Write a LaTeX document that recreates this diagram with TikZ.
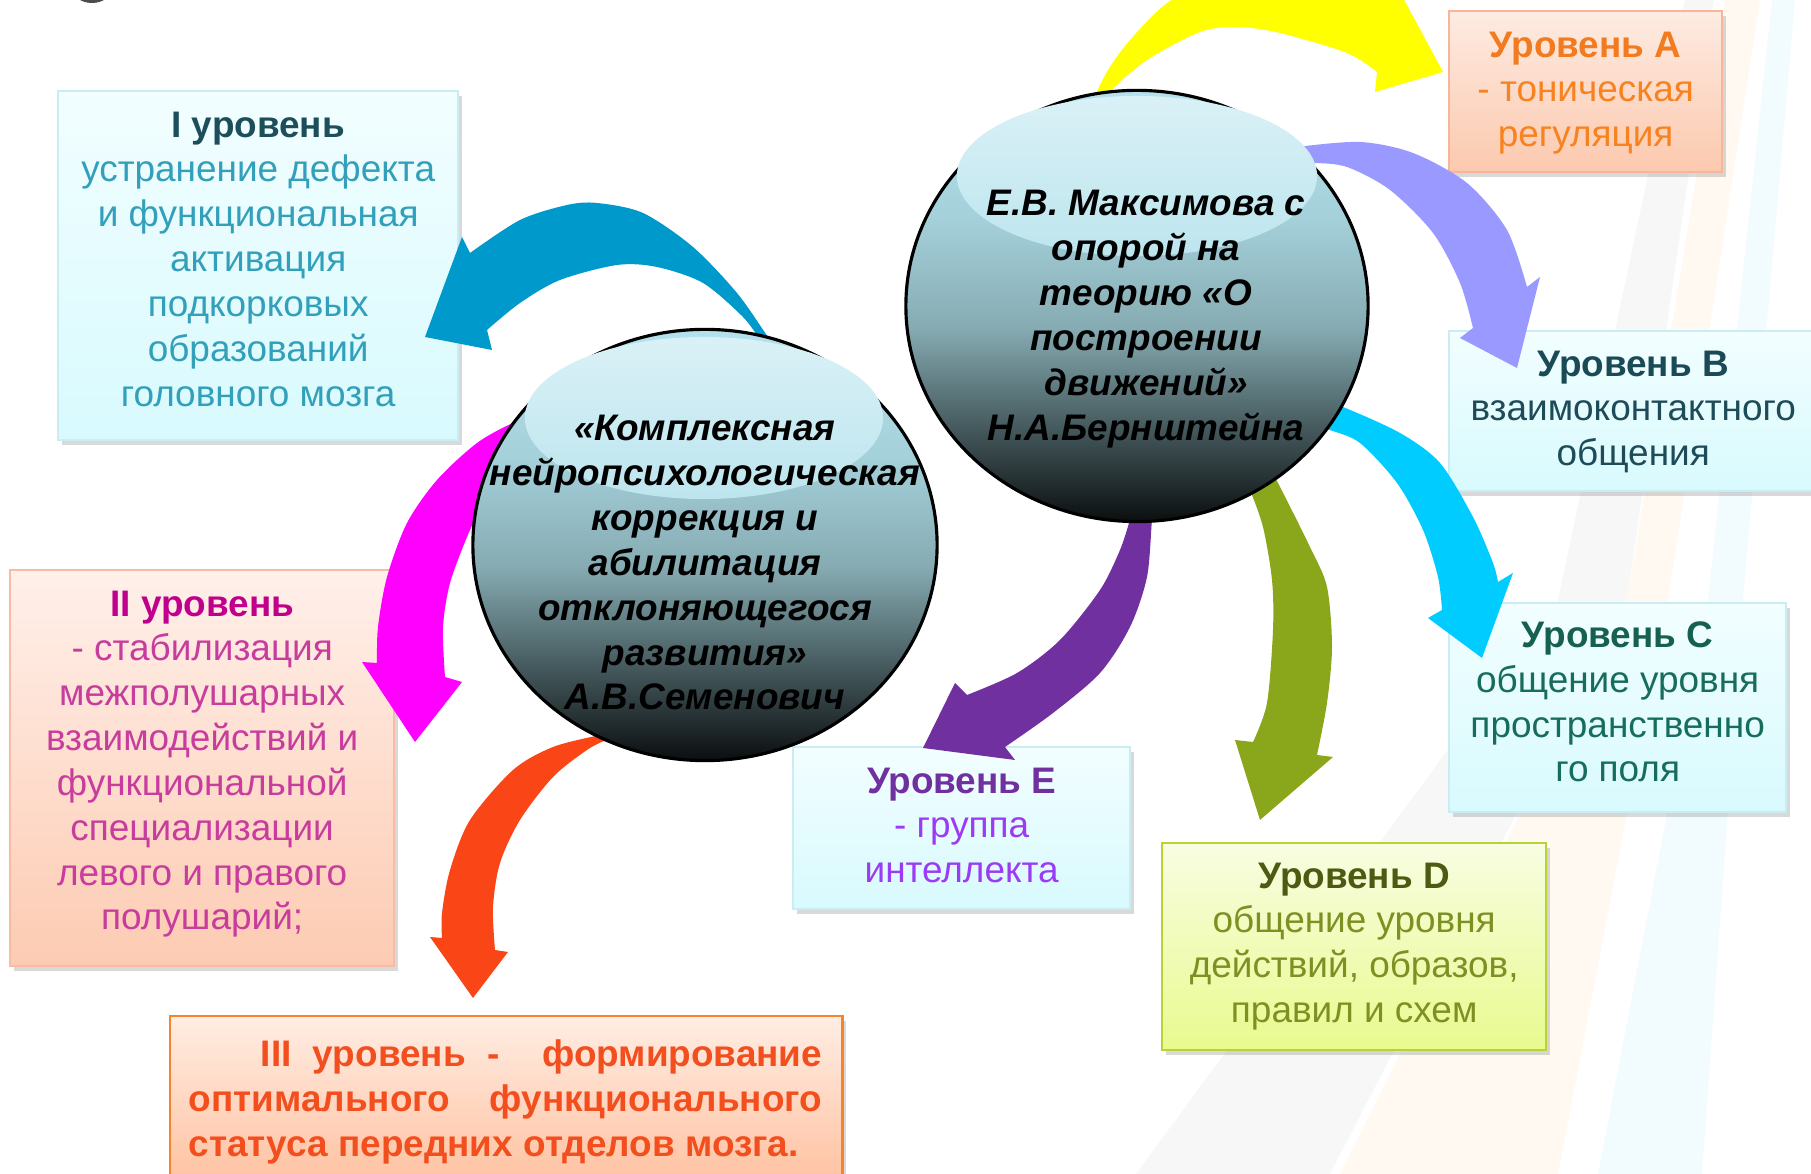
\documentclass[tikz,border=0pt]{standalone}
\usepackage{fontspec}
\setmainfont{Liberation Sans}
\usetikzlibrary{positioning,shapes.geometric,shadows}

% box fills
\definecolor{cyantop}{HTML}{F2FEFF}
\definecolor{cyanbot}{HTML}{D8FAFE}
\definecolor{cyanedge}{HTML}{C8EDF3}
\definecolor{peachtop}{HTML}{FFF0EA}
\definecolor{peachbot}{HTML}{FDCBB2}
\definecolor{peachedge}{HTML}{F8BCA4}
\definecolor{orangetop}{HTML}{FFEDE3}
\definecolor{orangebot}{HTML}{FFB48C}
\definecolor{orangeedge}{HTML}{F5842A}
\definecolor{salmontop}{HTML}{FDEBE2}
\definecolor{salmonbot}{HTML}{FCC9AE}
\definecolor{salmonedge}{HTML}{F7B59A}
\definecolor{limetop}{HTML}{F8FDE2}
\definecolor{limebot}{HTML}{E9FA8E}
\definecolor{limeedge}{HTML}{B4D535}
% text colours
\definecolor{tealhead}{HTML}{1D4E5B}
\definecolor{tealtxt}{HTML}{32A0BA}
\definecolor{maghead}{HTML}{C0008C}
\definecolor{magtxt}{HTML}{C83C9E}
\definecolor{redtxt}{HTML}{F24E1E}
\definecolor{orghead}{HTML}{F27B1F}
\definecolor{orgtxt}{HTML}{F7821F}
\definecolor{bhead}{HTML}{1B4A57}
\definecolor{btxt}{HTML}{1E4B58}
\definecolor{chead}{HTML}{16604F}
\definecolor{ctxt}{HTML}{176D5D}
\definecolor{dhead}{HTML}{4C5A12}
\definecolor{dtxt}{HTML}{7D9123}
\definecolor{ehead}{HTML}{7030A0}
\definecolor{etxt}{HTML}{9B3BF5}
% arrows
\definecolor{arryellow}{HTML}{FFFF00}
\definecolor{arrlav}{HTML}{9999FF}
\definecolor{arrcyan}{HTML}{00CCFF}
\definecolor{arrolive}{HTML}{8AA61B}
\definecolor{arrpurple}{HTML}{7030A0}
\definecolor{arrteal}{HTML}{0099CC}
\definecolor{arrmag}{HTML}{FF00FF}
\definecolor{arrred}{HTML}{FA4616}
% spheres
\definecolor{sphtop}{HTML}{B4E2EC}
\definecolor{sph30}{HTML}{A4D0DA}
\definecolor{sphmid}{HTML}{86ABB2}
\definecolor{sph75}{HTML}{4E6569}
\definecolor{sphbot}{HTML}{0B0E0F}
\definecolor{glosstop}{HTML}{D9F1F6}
\definecolor{glossbot}{HTML}{BDE5EE}
\pgfdeclareverticalshading{sphshade}{100bp}{color(0bp)=(sphbot); color(25bp)=(sphbot);
  color(37.5bp)=(sph75); color(47.5bp)=(sphmid); color(60bp)=(sph30);
  color(75bp)=(sphtop); color(100bp)=(sphtop)}

\tikzset{
  lvlbox/.style={rectangle, draw=#1, line width=0.6pt, inner sep=0pt,
    anchor=north west,
    drop shadow={shadow xshift=0.035cm, shadow yshift=-0.05cm, opacity=0.3}},
  lvltext/.style={align=center, inner sep=0pt,
    font=\fontsize{10.5}{12.75}\selectfont,
    execute at begin node={\rule{0pt}{0.3cm}}},
  sphere/.style={ellipse, draw=black, line width=0.9pt, inner sep=0pt,
    shading=sphshade},
  gloss/.style={ellipse, inner sep=0pt, top color=glosstop, bottom color=glossbot},
  sphtext/.style={lvltext, font=\fontsize{10.5}{12.75}\selectfont\bfseries\itshape}
}

\begin{document}
\begin{tikzpicture}[x=0.01cm, y=-0.01cm]
  \useasboundingbox (0,0) rectangle (1811,1174);
  \clip (0,0) rectangle (1811,1174);

  % faint background bands
  \fill[black!3] (1136,1174) -- (1330,1174) -- (1627,600) -- (1714,0) -- (1685,0) -- (1558,600) -- cycle;
  \fill[orange!5] (1340,1174) -- (1558,1174) -- (1668,600) -- (1760,0) -- (1725,0) -- (1627,600) -- cycle;
  \fill[cyan!5] (1598,1174) -- (1702,1174) -- (1743,600) -- (1795,0) -- (1772,0) -- (1708,600) -- cycle;
  \fill[black!70] (92,-12) ellipse [x radius=20, y radius=15];

  % level boxes
  \node[lvlbox=cyanedge, top color=cyantop, bottom color=cyanbot,
        minimum width=4cm, minimum height=3.49cm] (boxI) at (57,90) {};
  \node[lvlbox=peachedge, top color=peachtop, bottom color=peachbot,
        minimum width=3.84cm, minimum height=3.96cm] (boxII) at (9,569) {};
  \node[lvlbox=orangeedge, top color=orangetop, bottom color=orangebot,
        minimum width=6.72cm, minimum height=2.2cm] (boxIII) at (169,1015) {};
  \node[lvlbox=salmonedge, top color=salmontop, bottom color=salmonbot,
        minimum width=2.73cm, minimum height=1.61cm] (boxA) at (1448,10) {};
  \node[lvlbox=cyanedge, top color=cyantop, bottom color=cyanbot,
        minimum width=3.68cm, minimum height=1.6cm] (boxB) at (1448,330) {};
  \node[lvlbox=cyanedge, top color=cyantop, bottom color=cyanbot,
        minimum width=3.37cm, minimum height=2.09cm] (boxC) at (1448,602) {};
  \node[lvlbox=limeedge, top color=limetop, bottom color=limebot,
        minimum width=3.84cm, minimum height=2.07cm] (boxD) at (1161,842) {};
  \node[lvlbox=cyanedge, top color=cyantop, bottom color=cyanbot,
        minimum width=3.37cm, minimum height=1.62cm] (boxE) at (792,746) {};

  \node[lvltext, text=tealtxt, below=0.21cm of boxI.north] (txtI)
    {\textbf{\color{tealhead}I уровень}\\устранение дефекта\\и функциональная\\активация\\подкорковых\\образований\\головного мозга};
  \node[lvltext, text=magtxt, below=0.21cm of boxII.north] (txtII)
    {\textbf{\color{maghead}II уровень}\\- стабилизация\\межполушарных\\взаимодействий и\\функциональной\\специализации\\левого и правого\\полушарий;};
  \node[lvltext, text=redtxt, align=left, font=\fontsize{10.5}{12.75}\selectfont\bfseries,
        anchor=north west] (txtIII) at ([xshift=0.19cm, yshift=-0.24cm]boxIII.north west)
    {\makebox[6.33cm][s]{\hspace*{0.72cm}III\hfill уровень\hfill -\hfill\hfill формирование}\\
     \makebox[6.33cm][s]{оптимального\hfill функционального}\\
     статуса передних отделов мозга.};
  \node[lvltext, text=orgtxt, below=0.21cm of boxA.north] (txtA)
    {\textbf{\color{orghead}Уровень А}\\- тоническая\\регуляция};
  \node[lvltext, text=btxt, below=0.2cm of boxB.north] (txtB)
    {\textbf{\color{bhead}Уровень В}\\взаимоконтактного\\общения};
  \node[lvltext, text=ctxt, below=0.19cm of boxC.north] (txtC)
    {\textbf{\color{chead}Уровень С}\\общение уровня\\пространственно\\го поля};
  \node[lvltext, text=dtxt, below=0.2cm of boxD.north] (txtD)
    {\textbf{\color{dhead}Уровень D}\\общение уровня\\действий, образов,\\правил и схем};
  \node[lvltext, text=etxt, below=0.21cm of boxE.north] (txtE)
    {\textbf{\color{ehead}Уровень Е}\\- группа\\интеллекта};

  % curved block arrows
  \fill[arryellow] plot[smooth] coordinates {(1093,100) (1108,70) (1130,40) (1167,3) (1210,-18) (1265,-25) (1330,-18) (1383,-6)}
    -- (1387,-32) -- (1443,72) -- (1375,92)
    -- plot[smooth] coordinates {(1377,72) (1347,53) (1280,33) (1237,27) (1200,32) (1147,60) (1110,92) (1105,110)} -- cycle;
  \fill[arrlav] plot[smooth] coordinates {(1290,150) (1297,147) (1360,142) (1413,153) (1467,183) (1507,230) (1527,287)}
    -- (1540,277) -- (1517,368) -- (1460,338)
    -- plot[smooth] coordinates {(1473,328) (1460,283) (1433,233) (1390,190) (1347,167) (1313,163) (1290,165)} -- cycle;
  \fill[arrcyan] plot[smooth] coordinates {(1330,405) (1343,407) (1400,433) (1440,463) (1473,517) (1493,563) (1498,582)}
    -- (1513,573) -- (1482,658) -- (1428,618)
    -- plot[smooth] coordinates {(1442,610) (1438,577) (1423,530) (1397,483) (1360,443) (1330,430) (1315,425)} -- cycle;
  \fill[arrolive] plot[smooth] coordinates {(1245,480) (1250,490) (1263,527) (1272,580) (1273,630) (1267,703) (1253,742)}
    -- (1235,740) -- (1260,820) -- (1333,757)
    -- plot[smooth] coordinates {(1317,755) (1327,703) (1332,647) (1327,587) (1310,547) (1278,483) (1270,470)} -- cycle;
  \fill[arrpurple] plot[smooth] coordinates {(1155,505) (1152,520) (1147,577) (1130,627) (1100,673) (1053,713) (1005,747)}
    -- (1015,760) -- (923,748) -- (955,683)
    -- plot[smooth] coordinates {(967,695) (1017,673) (1060,640) (1100,590) (1120,550) (1130,520) (1135,505)} -- cycle;
  \fill[arrteal] plot[smooth] coordinates {(775,345) (768,337) (737,293) (693,247) (643,213) (597,203) (567,205) (520,220) (470,253)}
    -- (462,237) -- (425,337) -- (492,350)
    -- plot[smooth] coordinates {(487,330) (520,303) (560,280) (617,265) (657,267) (703,283) (743,317) (760,340)} -- cycle;
  \fill[arrmag] plot[smooth] coordinates {(520,425) (513,423) (477,443) (437,480) (407,523) (387,577) (378,627) (377,663)}
    -- (362,662) -- (415,742) -- (462,682)
    -- plot[smooth] coordinates {(445,677) (443,627) (450,583) (467,537) (480,510) (495,490)} -- cycle;
  \fill[arrred] plot[smooth] coordinates {(610,733) (600,735) (553,747) (513,770) (470,820) (450,870) (442,913) (442,938)}
    -- (430,937) -- (473,998) -- (508,952)
    -- plot[smooth] coordinates {(495,950) (493,907) (500,863) (520,820) (553,777) (587,750) (607,740) (620,740)} -- cycle;

  % spheres
  \node[sphere, minimum width=4.62cm, minimum height=4.31cm] (sphR) at (1137,306) {};
  \node[gloss, minimum width=3.6cm, minimum height=1.6cm] (glossR) at (1137,176) {};
  \node[sphere, minimum width=4.64cm, minimum height=4.31cm] (sphL) at (705,545) {};
  \node[gloss, minimum width=3.58cm, minimum height=1.62cm] (glossL) at (704,418) {};

  \node[sphtext, below=1.01cm of sphR.north, xshift=0.09cm] (txtR)
    {Е.В. Максимова с\\опорой на\\теорию «О\\построении\\движений»\\Н.А.Бернштейна};
  \node[sphtext, below=0.87cm of sphL.north] (txtL)
    {«Комплексная\\нейропсихологическая\\коррекция и\\абилитация\\отклоняющегося\\развития»\\А.В.Семенович};
\end{tikzpicture}
\end{document}
